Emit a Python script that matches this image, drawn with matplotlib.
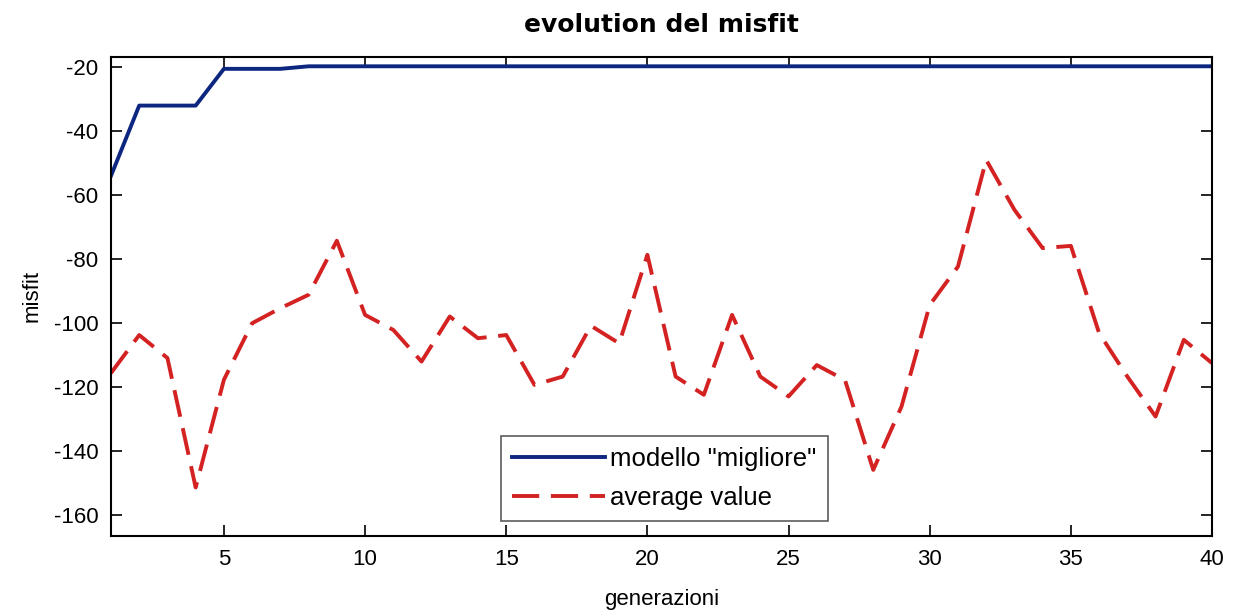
import matplotlib
matplotlib.use("Agg")
import matplotlib.pyplot as plt
import numpy as np

generations = list(range(1, 41))
best_model = [-54, -32, -32, -32, -20.5, -20.5, -20.5, -19.7, -19.7, -19.7,
              -19.7, -19.7, -19.7, -19.7, -19.7, -19.7, -19.7, -19.7, -19.7, -19.7,
              -19.7, -19.7, -19.7, -19.7, -19.7, -19.7, -19.7, -19.7, -19.7, -19.7,
              -19.7, -19.7, -19.7, -19.7, -19.7, -19.7, -19.7, -19.7, -19.7, -19.7]
average_value = [-115.7, -103.8, -111, -151.5, -117.8, -100.1, -95.4, -91.2, -74.3, -97.5,
                 -102.2, -112.1, -98, -104.8, -103.8, -119.4, -116.8, -100.9, -106.4, -78.7,
                 -116.8, -122.5, -97.5, -116.8, -123, -113.2, -117.9, -146, -126.2, -94.4,
                 -82.4, -49, -64.6, -76.6, -75.9, -103.2, -116.8, -129.3, -105.3, -112.6]
xticks = [5, 10, 15, 20, 25, 30, 35, 40]
yticks = [-160, -140, -120, -100, -80, -60, -40, -20]

plt.rcParams['font.family'] = ['Liberation Sans', 'DejaVu Sans']
plt.rcParams['axes.unicode_minus'] = False

fig = plt.figure(figsize=(12.33, 6.11), dpi=100)
ax = fig.add_axes([0.090, 0.1227, 0.893, 0.7845])

ax.plot(generations, best_model, color='#0d2680', lw=2.8, label='modello "migliore"')
ax.plot(generations, average_value, color='#d42222', lw=2.8, ls=(0, (7, 3)),
        label='average value')

ax.set_xlim(1, 40)
ax.set_ylim(-166.7, -16.7)
ax.set_xticks(xticks)
ax.set_yticks(yticks)
ax.tick_params(direction='in', top=True, right=True, length=8, width=1.2,
               labelsize=16, pad=9)
for s in ax.spines.values():
    s.set_linewidth(1.5)

ax.set_title('evolution del misfit', fontsize=18, fontweight='bold',
             family=['DejaVu Sans'], pad=18)
ax.set_xlabel('generazioni', fontsize=16, labelpad=14)
ax.set_ylabel('misfit', fontsize=16, labelpad=8)

leg = ax.legend(loc='lower left', bbox_to_anchor=(0.354, 0.031), fontsize=18.5,
                frameon=True, fancybox=False, edgecolor='#333333',
                handlelength=3.6, borderpad=0.45, labelspacing=0.55,
                handletextpad=0.2, borderaxespad=0)
leg.get_frame().set_linewidth(1.2)

fig.savefig('out.png', dpi=100)
